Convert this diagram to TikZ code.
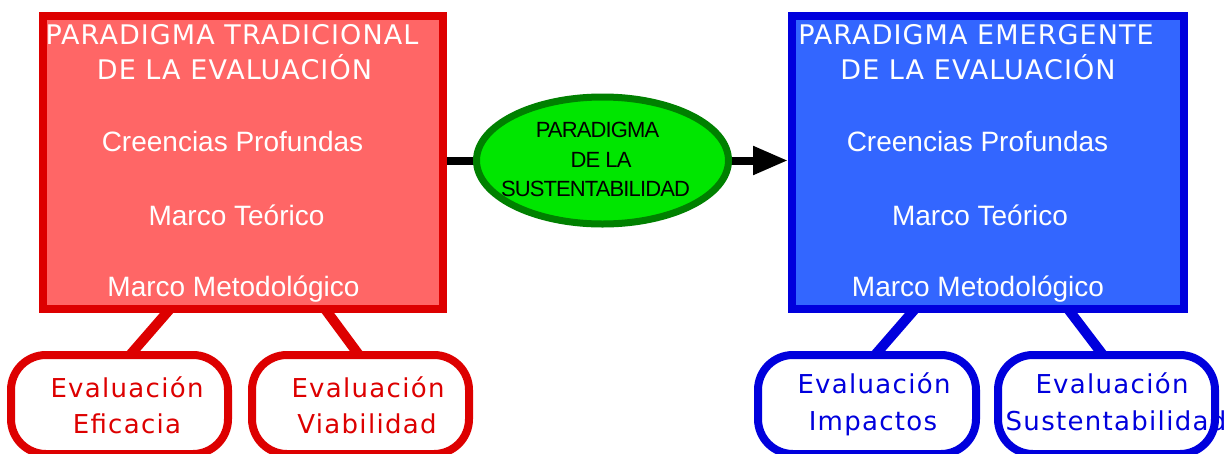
\documentclass[tikz,border=0pt]{standalone}
\usepackage{fontspec}
\usetikzlibrary{arrows.meta,shapes.geometric,backgrounds}
\newfontfamily\titlefont[LetterSpace=4]{DejaVu Sans}
\newfontfamily\itemfont{Liberation Sans}
\newfontfamily\labfont[LetterSpace=5]{DejaVu Sans}
\newfontfamily\ellfont[LetterSpace=-4]{Liberation Sans}
\definecolor{rstroke}{HTML}{DD0000}
\definecolor{rfill}{HTML}{FF6666}
\definecolor{bstroke}{HTML}{0000DD}
\definecolor{bfill}{HTML}{3366FF}
\definecolor{gstroke}{HTML}{008000}
\definecolor{gfill}{HTML}{00E600}
\begin{document}
\begin{tikzpicture}[x=1pt,y=-1pt,
  bigbox/.style={draw,line width=8pt,minimum height=293pt,inner sep=0pt,outer sep=0pt},
  leaf/.style={draw,line width=8pt,rounded corners=35pt,fill=white,minimum width=217pt,minimum height=99pt,inner sep=0pt,outer sep=0pt},
  link/.style={line width=10pt},
  flow/.style={line width=8pt},
  ttl/.style={anchor=base,text=white,font=\titlefont\fontsize{27}{27}\selectfont,inner sep=0pt},
  itm/.style={anchor=base,text=white,font=\itemfont\fontsize{28}{28}\selectfont,inner sep=0pt},
  lab/.style={anchor=base,font=\labfont\fontsize{26}{26}\selectfont,inner sep=0pt},
  elt/.style={anchor=base,font=\ellfont\fontsize{22}{22}\selectfont,inner sep=0pt},
]
\useasboundingbox (0,0) rectangle (1231,453);
\clip (0,0) rectangle (1231,453);
% main boxes
\node[bigbox, draw=rstroke, fill=rfill, minimum width=400pt] (red) at (243,162.5) {};
\node[bigbox, draw=bstroke, fill=bfill, minimum width=392pt] (blue) at (988,162.5) {};
\node[leaf, draw=rstroke] (rl) at (119.5,404.5) {};
\node[leaf, draw=rstroke] (rr) at (360.5,404.5) {};
\node[leaf, draw=bstroke, minimum width=218pt] (bl) at (867,404.5) {};
\node[leaf, draw=bstroke] (br) at (1106.5,404.5) {};
\node[ellipse, draw=gstroke, fill=gfill, line width=7pt, minimum width=252pt, minimum height=127pt, inner sep=0pt, outer sep=0pt] (ell) at (602.5,160.5) {};
% connectors behind
\begin{scope}[on background layer]
\draw[link, rstroke] ([xshift=127pt]red.south west) -- ([xshift=119pt]rl.north west);
\draw[link, rstroke] ([xshift=282pt]red.south west) -- ([xshift=107pt]rr.north west);
\draw[link, bstroke] ([xshift=123pt]blue.south west) -- ([xshift=117pt]bl.north west);
\draw[link, bstroke] ([xshift=276pt]blue.south west) -- ([xshift=105pt]br.north west);
\draw[flow] (red.east |- ell.center) -- (ell.center);
\draw[flow, -{Triangle[length=35pt,width=27pt]}] (ell.center) -- ([xshift=-4pt]blue.west |- ell.center);
\end{scope}
% texts red
\node[ttl] (rt1) at (232,44) {PARADIGMA TRADICIONAL};
\node[ttl] (rt2) at (234.5,79) {DE LA EVALUACIÓN};
\node[itm] (ri1) at (232.5,151) {Creencias Profundas};
\node[itm] (ri2) at (236.5,225) {Marco Teórico};
\node[itm] (ri3) at (233.5,296) {Marco Metodológico};
% texts blue
\node[ttl] (bt1) at (976,44) {PARADIGMA EMERGENTE};
\node[ttl] (bt2) at (978,79) {DE LA EVALUACIÓN};
\node[itm] (bi1) at (977.5,151) {Creencias Profundas};
\node[itm] (bi2) at (980,225) {Marco Teórico};
\node[itm] (bi3) at (978,296) {Marco Metodológico};
% ellipse text
\node[elt] (e1) at (597.5,137) {PARADIGMA};
\node[elt] (e2) at (601,167) {DE LA};
\node[elt] (e3) at (595.5,196) {SUSTENTABILIDAD};
% leaf labels
\node[lab, text=rstroke] (l1a) at (127,397) {Evaluación};
\node[lab, text=rstroke] (l1b) at (127,433) {Eficacia};
\node[lab, text=rstroke] (l2a) at (368,397) {Evaluación};
\node[lab, text=rstroke] (l2b) at (367,433) {Viabilidad};
\node[lab, text=bstroke] (l3a) at (874,393) {Evaluación};
\node[lab, text=bstroke] (l3b) at (873,430) {Impactos};
\node[lab, text=bstroke] (l4a) at (1112,393) {Evaluación};
\node[lab, text=bstroke] (l4b) at (1116,430) {Sustentabilidad};
\end{tikzpicture}
\end{document}
